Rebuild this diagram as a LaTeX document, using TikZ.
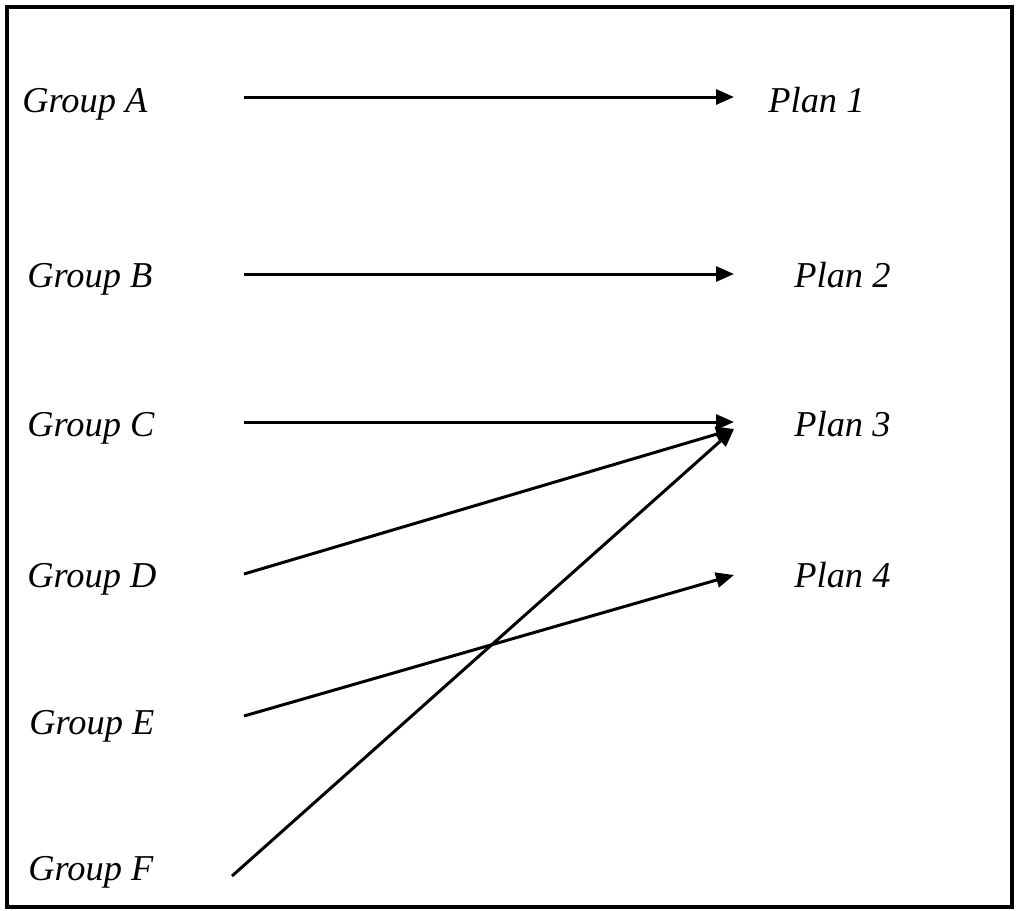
\documentclass[tikz,border=0pt]{standalone}
\usepackage{fontspec}
\setmainfont{Liberation Serif}
\usetikzlibrary{arrows.meta}

\begin{document}
\begin{tikzpicture}[x=0.5pt,y=-0.5pt,
  label/.style={anchor=base west, inner sep=0pt, font=\fontsize{18.2}{22}\selectfont\itshape},
  link/.style={line width=1.5pt, -{Triangle[length=9pt,width=7.5pt]}}]
\newcommand{\tipx}{734}
% Frame
\draw[line width=2pt] (7,7) rectangle (1012,907);
\useasboundingbox (0,0) rectangle (1016,910);

% Groups (left)
\node[label] (gA) at (22,112) {Group A};
\node[label] (gB) at (27,287) {Group B};
\node[label] (gC) at (27,436) {Group C};
\node[label] (gD) at (27,587) {Group D};
\node[label] (gE) at (29,734) {Group E};
\node[label] (gF) at (28,880) {Group F};

% Plans (right)
\node[label] (p1) at (768,112) {Plan 1};
\node[label] (p2) at (794,287) {Plan 2};
\node[label] (p3) at (794,436) {Plan 3};
\node[label] (p4) at (794,587) {Plan 4};

% Arrow ends
\coordinate (sA) at (244,97);
\coordinate (sB) at (244,274);
\coordinate (sC) at (244,422);
\coordinate (sD) at (244,574);
\coordinate (sE) at (244,716);
\coordinate (sF) at (232,876);
\coordinate (e1) at (\tipx,97);
\coordinate (e2) at (\tipx,274);
\coordinate (e3) at (\tipx,422);
\coordinate (e3b) at (\tipx,429);
\coordinate (e4) at (\tipx,575);

% Links
\draw[link] (sA) -- (e1);
\draw[link] (sB) -- (e2);
\draw[link] (sC) -- (e3);
\draw[link] (sD) -- (e3b);
\draw[link] (sE) -- (e4);
\draw[link] (sF) -- (e3b);

\end{tikzpicture}
\end{document}
